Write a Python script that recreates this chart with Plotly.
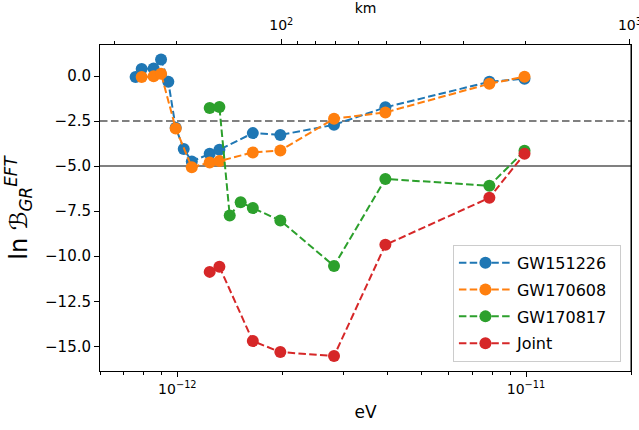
import plotly.graph_objects as go
import numpy as np

# ---- data ----
ev_151226 = [7.59e-13, 7.90e-13, 8.55e-13, 8.98e-13, 9.42e-13, 9.89e-13, 1.043e-12, 1.10e-12,
             1.238e-12, 1.32e-12, 1.646e-12, 1.974e-12, 2.814e-12, 3.95e-12, 7.85e-12, 9.9e-12]
lnB_151226 = [-0.06, 0.39, 0.42, 0.91, -0.32, -2.87, -4.05, -4.74,
              -4.32, -4.09, -3.17, -3.27, -2.71, -1.74, -0.32, -0.15]

ev_170608 = [7.90e-13, 8.55e-13, 8.98e-13, 9.89e-13, 1.10e-12, 1.238e-12, 1.32e-12,
             1.646e-12, 1.974e-12, 2.814e-12, 3.95e-12, 7.85e-12, 9.9e-12]
lnB_170608 = [-0.06, -0.02, 0.13, -2.91, -5.06, -4.80, -4.72,
              -4.24, -4.13, -2.37, -2.02, -0.43, -0.04]

ev_170817 = [1.238e-12, 1.32e-12, 1.413e-12, 1.519e-12, 1.646e-12, 1.974e-12,
             2.814e-12, 3.95e-12, 7.85e-12, 9.9e-12]
lnB_170817 = [-1.78, -1.72, -7.74, -7.00, -7.33, -8.02, -10.54, -5.71, -6.09, -4.15]

ev_joint = [1.238e-12, 1.32e-12, 1.646e-12, 1.974e-12, 2.814e-12, 3.95e-12, 7.85e-12, 9.9e-12]
lnB_joint = [-10.87, -10.58, -14.71, -15.32, -15.54, -9.37, -6.76, -4.32]

series_names = ["GW151226", "GW170608", "GW170817", "Joint"]
series_x = [ev_151226, ev_170608, ev_170817, ev_joint]
series_y = [lnB_151226, lnB_170608, lnB_170817, lnB_joint]
colors = ["#1f77b4", "#ff7f0e", "#2ca02c", "#d62728"]

ref_lines = [-2.5, -5.0]
ref_dash = ["7.5px,3.5px", "solid"]

y_ticks = [0.0, -2.5, -5.0, -7.5, -10.0, -12.5, -15.0]
x_major = [1e-12, 1e-11]
x_major_text = ["10<sup>\u221212</sup>", "10<sup>\u221211</sup>"]
x_minor = [6e-13, 7e-13, 8e-13, 9e-13, 2e-12, 3e-12, 4e-12, 5e-12, 6e-12, 7e-12, 8e-12, 9e-12, 2e-11]
km_major = [100, 1000]
km_major_text = ["10<sup>2</sup>", "10<sup>3</sup>"]
km_minor = [1000 / n for n in [30, 20, 9, 8, 7, 6, 5, 4, 3, 2]]

FONT = "DejaVu Sans"

fig = go.Figure()
for name, xs, ys, c in zip(series_names, series_x, series_y, colors):
    fig.add_trace(go.Scatter(
        x=xs, y=ys, name=name + "\u2002", mode="lines+markers", legendgroup=name,
        line=dict(color=c, width=2, dash="7.5px,3.3px"),
        marker=dict(color=c, size=12),
    ))

# empty helper trace so the top (km) axis is drawn
fig.add_trace(go.Scatter(x=km_major, y=[None, None], xaxis="x2", yaxis="y",
                         mode="markers", showlegend=False, hoverinfo="skip"))

for yv, d in zip(ref_lines, ref_dash):
    fig.add_shape(type="line", xref="paper", x0=0, x1=1, yref="y", y0=yv, y1=yv,
                  line=dict(color="#808080", width=2, dash=d), layer="below")

# right-hand frame line
fig.add_shape(type="line", xref="paper", yref="paper", x0=1, x1=1, y0=0, y1=1,
              line=dict(color="black", width=1))

fig.update_layout(
    width=639, height=430,
    margin=dict(l=100, r=8, t=45, b=59),
    paper_bgcolor="white", plot_bgcolor="white",
    font=dict(family=FONT, color="black", size=14),
    showlegend=True,
    legend=dict(
        x=0.981, y=0.028, xanchor="right", yanchor="bottom",
        bgcolor="rgba(255,255,255,0.8)", bordercolor="#cccccc", borderwidth=1,
        font=dict(size=16, family=FONT),
        traceorder="grouped", tracegroupgap=3, itemwidth=53,
    ),
    xaxis=dict(
        type="log", range=[np.log10(6e-13), np.log10(2e-11)],
        tickmode="array", tickvals=x_major, ticktext=x_major_text,
        ticks="outside", ticklen=5, tickwidth=1, tickcolor="black",
        showline=True, linecolor="black", linewidth=1,
        showgrid=False, zeroline=False, automargin=False,
        tickfont=dict(size=14), ticklabeloverflow="allow",
        title=dict(text="eV", font=dict(size=17), standoff=10),
        minor=dict(tickmode="array", tickvals=x_minor, ticks="outside",
                   ticklen=3, tickwidth=1, tickcolor="black", showgrid=False),
    ),
    xaxis2=dict(
        type="log", overlaying="x", side="top", anchor="y",
        range=[1.480, 3.003],
        tickmode="array", tickvals=km_major, ticktext=km_major_text,
        ticks="outside", ticklen=5, tickwidth=1, tickcolor="black",
        showline=True, linecolor="black", linewidth=1,
        showgrid=False, zeroline=False, automargin=False,
        tickfont=dict(size=14), ticklabeloverflow="allow", ticklabelstandoff=3,
        title=dict(text="km", font=dict(size=14), standoff=6),
        minor=dict(tickmode="array", tickvals=km_minor, ticks="outside",
                   ticklen=3, tickwidth=1, tickcolor="black", showgrid=False),
    ),
    yaxis=dict(
        range=[-16.37, 1.72],
        tickmode="array", tickvals=y_ticks,
        ticktext=[("\u2212" if v < 0 else "") + f"{abs(v):.1f}" for v in y_ticks],
        ticks="outside", ticklen=5, tickwidth=1, tickcolor="black",
        showline=True, linecolor="black", linewidth=1, mirror=True,
        showgrid=False, zeroline=False, automargin=False,
        tickfont=dict(size=15),
        title=dict(text="ln \u212C<sub><i>GR</i></sub><sup><i>EFT</i></sup>",
                   font=dict(size=24), standoff=10),
    ),
)

fig.write_html("out.html")
